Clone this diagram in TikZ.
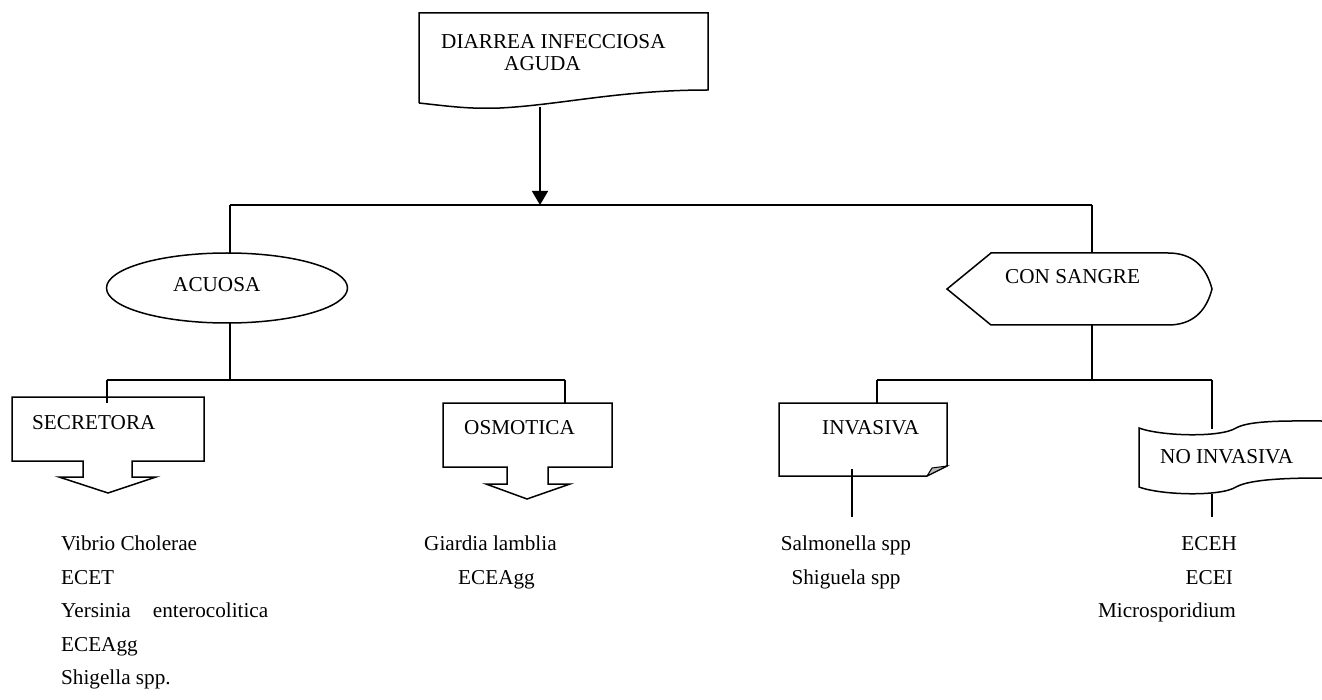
\documentclass[tikz,border=0pt]{standalone}
\usepackage{fontspec}
\setmainfont{Liberation Serif}
\usetikzlibrary{arrows.meta}
\begin{document}
\begin{tikzpicture}[x=1pt,y=-1pt,
  outline/.style={draw=black,line width=1.5pt,line join=miter},
  conn/.style={draw=black,line width=1.5pt},
  lbl/.style={anchor=base west,inner sep=0pt,font=\fontsize{21.2}{25}\selectfont},
  lblr/.style={anchor=base east,inner sep=0pt,font=\fontsize{21.2}{25}\selectfont},
  lblc/.style={anchor=base,inner sep=0pt,font=\fontsize{21.2}{25}\selectfont}]
\useasboundingbox[fill=white] (0,0) rectangle (1322,700);

% ---- shapes ----
% document shape
\draw[outline] (419,103) -- (419,13) -- (708,13) -- (708,90)
  .. controls (620,90) and (560,105) .. (500,108)
  .. controls (470,109) and (455,107) .. (419,103);
% ellipse
\draw[outline] (227,288) ellipse [x radius=120.5, y radius=35];
% con sangre display shape
\draw[outline] (947,289) -- (991,253) -- (1168,253)
  .. controls (1192,253) and (1206,266) .. (1212,289)
  .. controls (1206,312) and (1192,325) .. (1168,325)
  -- (991,325) -- cycle;
% secretora arrow box
\draw[outline] (12,397) -- (204,397) -- (204,461) -- (132,461) -- (132,477) -- (156,477)
  -- (108,493) -- (59,477) -- (83,477) -- (83,461) -- (12,461) -- cycle;
% osmotica arrow box
\draw[outline] (443,403) -- (612,403) -- (612,467) -- (548,467) -- (548,484) -- (570,484)
  -- (527,499) -- (486,484) -- (507,484) -- (507,467) -- (443,467) -- cycle;
% invasiva folded corner
\draw[outline] (779,403) -- (947,403) -- (947,466) -- (927,476) -- (779,476) -- cycle;
\draw[line width=1pt,fill=gray!55] (927,476) -- (932,468) -- (947,466) -- cycle;
% no invasiva wave
\draw[outline] (1322,421) .. controls (1290,421) and (1250,420) .. (1236,428)
  .. controls (1220,438) and (1160,436) .. (1139,428) -- (1139,487)
  .. controls (1160,495) and (1220,497) .. (1236,487)
  .. controls (1250,479) and (1290,478) .. (1322,478);

% ---- text nodes ----
\node[lbl] (t1) at (441,49) {DIARREA INFECCIOSA};
\node[lbl] (t2) at (504,71) {AGUDA};
\node[lbl] (acu) at (173,292) {ACUOSA};
\node[lbl] (con) at (1005,284) {CON SANGRE};
\node[lbl] (sec) at (32,429) {SECRETORA};
\node[lbl] (osm) at (464,434) {OSMOTICA};
\node[lbl] (inv) at (822,434) {INVASIVA};
\node[lbl] (noi) at (1160,463) {NO INVASIVA};

\node[lbl] (s1) at (61,550) {Vibrio Cholerae};
\node[lbl] (s2) at (61,584) {ECET};
\node[lbl] (s3) at (61,617) {Yersinia\hspace{22pt}enterocolitica};
\node[lbl] (s4) at (61,651) {ECEAgg};
\node[lbl] (s5) at (61,684) {Shigella spp.};

\node[lbl] (o1) at (424,550) {Giardia lamblia};
\node[lbl] (o2) at (458,584) {ECEAgg};

\node[lblc] (i1) at (846,550) {Salmonella spp};
\node[lblc] (i2) at (846,584) {Shiguela spp};

\node[lblr] (n1) at (1237,550) {ECEH};
\node[lblr] (n2) at (1233,584) {ECEI};
\node[lblr] (n3) at (1236,617) {Microsporidium};

% ---- connector coordinates ----
\coordinate (docb) at (540,107);
\coordinate (mid) at (540,205);
\coordinate (hl) at (230,205);
\coordinate (hr) at (1092,205);
\coordinate (elt) at (230,253);
\coordinate (cst) at (1092,253);
\coordinate (elb) at (230,323);
\coordinate (csb) at (1092,325);
\coordinate (la) at (230,380);
\coordinate (ll) at (107,380);
\coordinate (lr) at (565,380);
\coordinate (secin) at (107,403);
\coordinate (osmt) at (565,403);
\coordinate (ra) at (1092,380);
\coordinate (rl) at (877,380);
\coordinate (rr) at (1212,380);
\coordinate (invt) at (877,403);
\coordinate (noit) at (1212,429);
\coordinate (invin) at (852,469);
\coordinate (invd) at (852,517);
\coordinate (noib) at (1212,494);
\coordinate (noid) at (1212,517);

\draw[conn,-{Triangle[width=16pt,length=14pt]}] (docb) -- (mid);
\draw[conn] (hl) -- (hr);
\draw[conn] (hl) -- (elt);
\draw[conn] (hr) -- (cst);
\draw[conn] (elb) -- (la);
\draw[conn] (ll) -- (lr);
\draw[conn] (ll) -- (secin);
\draw[conn] (lr) -- (osmt);
\draw[conn] (csb) -- (ra);
\draw[conn] (rl) -- (rr);
\draw[conn] (rl) -- (invt);
\draw[conn] (rr) -- (noit);
\draw[conn] (invin) -- (invd);
\draw[conn] (noib) -- (noid);
\end{tikzpicture}
\end{document}
